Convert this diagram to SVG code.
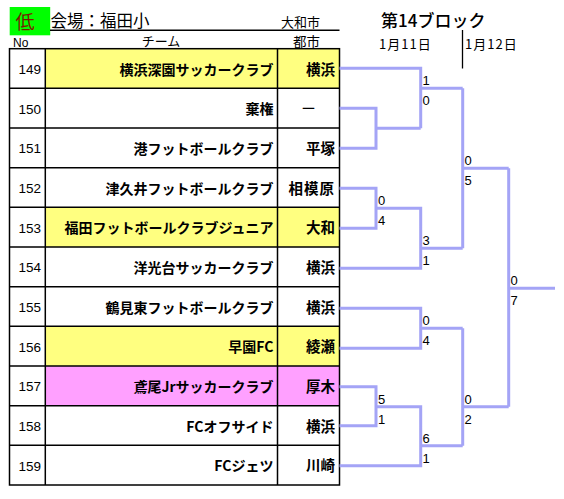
<svg xmlns="http://www.w3.org/2000/svg" width="564" height="499" viewBox="0 0 564 499">
<style>
.jp{font-family:"Noto Sans CJK JP","Noto Sans",sans-serif;fill:#000}
.num{font-family:"Liberation Sans",Arial,sans-serif;font-size:13.5px;text-anchor:end;fill:#000}
.team{font-family:"Noto Sans CJK JP","Noto Sans",sans-serif;font-size:14px;font-weight:bold;text-anchor:end;fill:#000}
.city{font-family:"Noto Sans CJK JP","Noto Sans",sans-serif;font-size:14.5px;font-weight:bold;text-anchor:end;fill:#000}
.sc{font-family:"Liberation Sans",Arial,sans-serif;font-size:13px;fill:#000}
.grid{stroke:#000;stroke-width:1.5;fill:none}
.br{stroke:#a4a4f6;stroke-width:3;fill:none}
.yel{fill:#ffff80}
.pink{fill:#ffa0ff}
</style>
<rect width="564" height="499" fill="#fff"/>

<g id="header">
<rect x="9.7" y="7" width="40.5" height="28.3" fill="#00ff00"/>
<text class="jp" x="25" y="28.5" font-size="19" text-anchor="middle" style="fill:#7a1a00">低</text>
<text class="jp" x="50.5" y="26.5" font-size="16.5">会場：福田小</text>
<text class="jp" x="281" y="27" font-size="13">大和市</text>
<line x1="50" y1="30.3" x2="339.5" y2="30.3" stroke="#000" stroke-width="1.5"/>
<text x="13" y="46.5" font-family="Liberation Sans, Arial, sans-serif" font-size="12">No</text>
<text class="jp" x="161" y="45.5" font-size="13" text-anchor="middle">チーム</text>
<text class="jp" x="293" y="46.5" font-size="13.5">都市</text>
<text class="jp" x="381" y="26.5" font-size="17" font-weight="500">第14ブロック</text>
<text class="jp" x="379" y="48.5" font-size="13" letter-spacing="1">1月11日</text>
<line x1="462.5" y1="30" x2="462.5" y2="68.5" stroke="#000" stroke-width="1.3"/>
<text class="jp" x="465" y="48.5" font-size="13" letter-spacing="1">1月12日</text>
</g>

<g id="team-149">
<rect class="yel" x="45.3" y="48.7" width="294.2" height="39.67"/>
<text class="num" x="41" y="73.8">149</text>
<text class="team" x="273.5" y="74.5">横浜深園サッカークラブ</text>
<text class="city" x="335" y="74.5">横浜</text>
</g>
<g id="team-150">
<text class="num" x="41" y="113.5">150</text>
<text class="team" x="273.5" y="114.2">棄権</text>
<text class="city" x="308.5" y="114.2" style="text-anchor:middle;font-weight:normal">ー</text>
</g>
<g id="team-151">
<text class="num" x="41" y="153.2">151</text>
<text class="team" x="273.5" y="153.9">港フットボールクラブ</text>
<text class="city" x="335" y="153.9">平塚</text>
</g>
<g id="team-152">
<text class="num" x="41" y="192.8">152</text>
<text class="team" x="273.5" y="193.5">津久井フットボールクラブ</text>
<text class="city" x="335" y="193.5" letter-spacing="1">相模原</text>
</g>
<g id="team-153">
<rect class="yel" x="45.3" y="207.37" width="294.2" height="39.67"/>
<text class="num" x="41" y="232.5">153</text>
<text class="team" x="273.5" y="233.2">福田フットボールクラブジュニア</text>
<text class="city" x="335" y="233.2">大和</text>
</g>
<g id="team-154">
<text class="num" x="41" y="272.2">154</text>
<text class="team" x="273.5" y="272.9">洋光台サッカークラブ</text>
<text class="city" x="335" y="272.9">横浜</text>
</g>
<g id="team-155">
<text class="num" x="41" y="311.8">155</text>
<text class="team" x="273.5" y="312.5">鶴見東フットボールクラブ</text>
<text class="city" x="335" y="312.5">横浜</text>
</g>
<g id="team-156">
<rect class="yel" x="45.3" y="326.37" width="294.2" height="39.67"/>
<text class="num" x="41" y="351.5">156</text>
<text class="team" x="273.5" y="352.2">早園FC</text>
<text class="city" x="335" y="352.2">綾瀬</text>
</g>
<g id="team-157">
<rect class="pink" x="45.3" y="366.03" width="294.2" height="39.67"/>
<text class="num" x="41" y="391.2">157</text>
<text class="team" x="273.5" y="391.9">鳶尾Jrサッカークラブ</text>
<text class="city" x="335" y="391.9">厚木</text>
</g>
<g id="team-158">
<text class="num" x="41" y="430.8">158</text>
<text class="team" x="273.5" y="431.5">FCオフサイド</text>
<text class="city" x="335" y="431.5">横浜</text>
</g>
<g id="team-159">
<text class="num" x="41" y="470.5">159</text>
<text class="team" x="273.5" y="471.2">FCジェツ</text>
<text class="city" x="335" y="471.2">川崎</text>
</g>

<g id="table-grid" class="grid">
<rect x="9.5" y="48.7" width="330" height="436.3"/>
<line x1="45.3" y1="48.7" x2="45.3" y2="485"/>
<line x1="277.5" y1="48.7" x2="277.5" y2="485"/>
<path d="M9.5 88.37H339.5M9.5 128.03H339.5M9.5 167.7H339.5M9.5 207.37H339.5M9.5 247.03H339.5M9.5 286.7H339.5M9.5 326.37H339.5M9.5 366.03H339.5M9.5 405.7H339.5M9.5 445.37H339.5"/>
</g>

<g id="connectors">
<path class="br" d="M339.5 68.3H420.7V128.3"/>
<path class="br" d="M339.5 108.3H376V148.3H339.5M376 128.3H420.7"/>
<path class="br" d="M420.7 88.3H462.7"/>
<path class="br" d="M339.5 188.3H376V228.3H339.5M376 208.3H420.7V268.3H339.5M420.7 248.3H462.7"/>
<path class="br" d="M462.7 88.3V248.3M462.7 168.3H508.7"/>
<path class="br" d="M339.5 308.3H420.7V348.3H339.5M420.7 328.3H462.7"/>
<path class="br" d="M339.5 386.7H376V425.7H339.5M376 406.7H420.7V465.7H339.5M420.7 445.7H462.7"/>
<path class="br" d="M462.7 328.3V445.7M462.7 406.7H508.7"/>
<path class="br" d="M508.7 168.3V406.7M508.7 288.3H555"/>
</g>

<g id="scores">
<text class="sc" x="422.5" y="85.3">1</text>
<text class="sc" x="422.5" y="105.3">0</text>
<text class="sc" x="378" y="205.3">0</text>
<text class="sc" x="378" y="225.3">4</text>
<text class="sc" x="422.5" y="245.3">3</text>
<text class="sc" x="422.5" y="265.3">1</text>
<text class="sc" x="464.5" y="165.3">0</text>
<text class="sc" x="464.5" y="185.3">5</text>
<text class="sc" x="510.5" y="285.3">0</text>
<text class="sc" x="510.5" y="305.3">7</text>
<text class="sc" x="422.5" y="325.3">0</text>
<text class="sc" x="422.5" y="345.3">4</text>
<text class="sc" x="378" y="403.7">5</text>
<text class="sc" x="378" y="423.7">1</text>
<text class="sc" x="422.5" y="442.7">6</text>
<text class="sc" x="422.5" y="462.7">1</text>
<text class="sc" x="464.5" y="403.7">0</text>
<text class="sc" x="464.5" y="423.7">2</text>
</g>
</svg>
